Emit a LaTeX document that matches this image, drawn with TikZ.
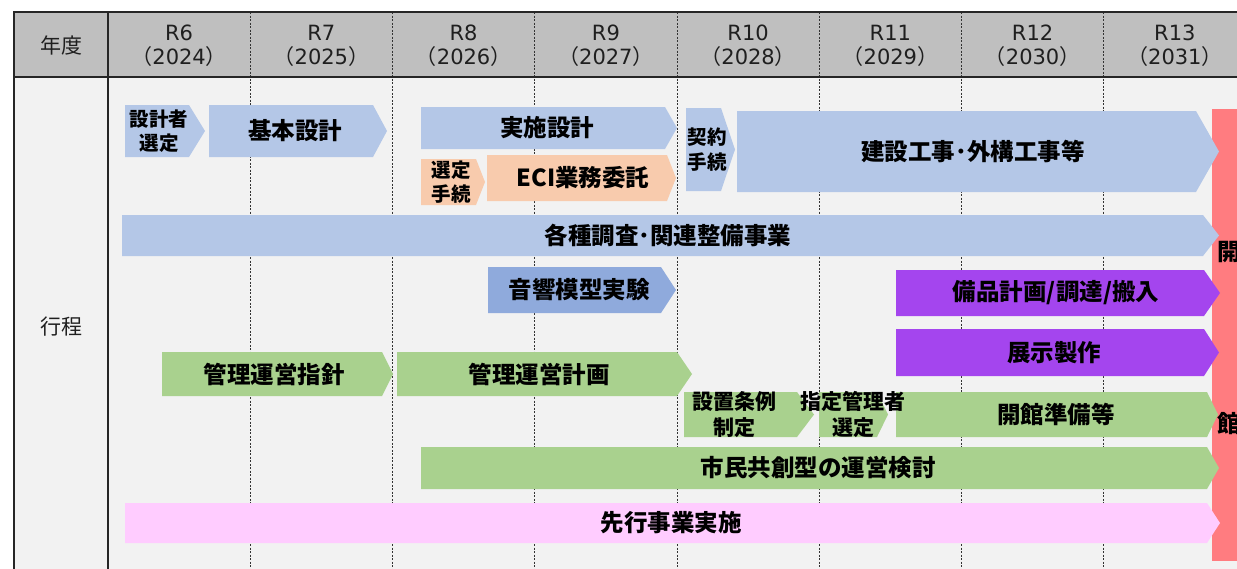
\documentclass[tikz,border=0pt]{standalone}
\usepackage{fontspec}
\setmainfont{Noto Sans CJK JP}
\newfontfamily\hdrlat{DejaVu Sans}
\definecolor{hdr}{HTML}{BFBFBF}
\definecolor{bodyc}{HTML}{F2F2F2}
\definecolor{lblue}{HTML}{B4C7E7}
\definecolor{mblue}{HTML}{8FAADC}
\definecolor{lorange}{HTML}{F8CBAD}
\definecolor{lpurple}{HTML}{A445EE}
\definecolor{lgreen}{HTML}{A9D18E}
\definecolor{lpink}{HTML}{FFCCFF}
\definecolor{lred}{HTML}{FF7C80}
\pgfdeclarelayer{fg}
\pgfsetlayers{main,fg}
\tikzset{
  lbl/.style={inner sep=0pt, align=center, font=\fontsize{23.5}{27}\selectfont\bfseries, text=black},
  small/.style={font=\fontsize{19.5}{24.5}\selectfont\bfseries},
  mid/.style={font=\fontsize{21}{26}\selectfont\bfseries},
  hdrtext/.style={inner sep=0pt, font=\fontsize{21}{24}\selectfont, text=black!88},
  yearline/.style={line width=0.8pt, dash pattern=on 2pt off 1.5pt, black!80},
  border/.style={line width=1.6pt, black!85}
}
% name, x1, tipstart, tip, y1, y2, colour, text x, style
\newcommand\chevbar[9]{%
  \fill[#7] (#2,#5) -- (#3,#5) -- (#4,{(#5+#6)/2}) -- (#3,#6) -- (#2,#6) -- cycle;
  \begin{pgfonlayer}{fg}
  \node[lbl,#9] (#1) at (#8,{(#5+#6)/2}) {\chevtext};
  \end{pgfonlayer}
}
\newcommand\chevtext{}
\begin{document}
\begin{tikzpicture}[x=1pt,y=-1pt]
\useasboundingbox (0,0) rectangle (1237,568);
% backgrounds
\fill[hdr] (14,12) rectangle (1240,77);
\fill[bodyc] (14,77) rectangle (1240,570);
% year dashed lines
\foreach \k in {1,...,7}{
  \draw[yearline] ({108+142.25*\k},12) -- ({108+142.25*\k},570);
}
% borders
\draw[border] (14,12) -- (1240,12);
\draw[border] (14,77) -- (1240,77);
\draw[border] (14,11.2) -- (14,570);
\draw[border] (108,11.2) -- (108,570);
% header text
\node[hdrtext] (nendo) at (61,45) {年度};
\node[hdrtext] (gyotei) at (61,327) {行程};
\foreach \i in {6,...,13}{
  \pgfmathsetmacro\cx{108+142.25*(\i-6+0.5)}
  \pgfmathtruncatemacro\yr{\i+2018}
  \node[hdrtext] (r\i) at (\cx,33) {\hdrlat R\i};
  \node[hdrtext] (y\i) at (\cx,57) {（{\hdrlat\yr}）};
}
% opening bar (under the arrow tips)
\fill[lred] (1212,109) rectangle (1240,561);
% bars
\renewcommand\chevtext{設計者\\選定}
\chevbar{sekkeisha}{125}{189}{205}{105}{157}{lblue}{159}{small}
\renewcommand\chevtext{基本設計}
\chevbar{kihon}{209}{373}{387}{105}{157}{lblue}{295}{}
\renewcommand\chevtext{実施設計}
\chevbar{jisshi}{421}{665}{677}{107}{149}{lblue}{547}{}
\renewcommand\chevtext{選定\\手続}
\chevbar{senteitetsu}{421}{476}{485}{159}{205}{lorange}{451}{small}
\renewcommand\chevtext{ECI業務委託}
\chevbar{eci}{487}{667}{676}{155}{201}{lorange}{583}{}
\renewcommand\chevtext{契約\\手続}
\chevbar{keiyaku}{686}{721}{735}{108}{191}{lblue}{707}{small}
\renewcommand\chevtext{建設工事･外構工事等}
\chevbar{kensetsu}{737}{1196}{1219}{111}{192}{lblue}{973}{}
\renewcommand\chevtext{各種調査･関連整備事業}
\chevbar{kakushu}{122}{1203}{1219}{215}{256}{lblue}{668}{}
\renewcommand\chevtext{音響模型実験}
\chevbar{onkyo}{488}{661}{676}{267}{313}{mblue}{579}{}
\renewcommand\chevtext{備品計画/調達/搬入}
\chevbar{bihin}{896}{1204}{1220}{270}{316}{lpurple}{1056}{}
\renewcommand\chevtext{展示製作}
\chevbar{tenji}{896}{1204}{1219}{329}{376}{lpurple}{1054}{}
\renewcommand\chevtext{管理運営指針}
\chevbar{shishin}{162}{382}{393}{352}{396}{lgreen}{274}{}
\renewcommand\chevtext{管理運営計画}
\chevbar{keikaku}{397}{677}{692}{352}{396}{lgreen}{539}{}
\renewcommand\chevtext{設置条例\\制定}
\chevbar{jorei}{684}{797}{814}{392}{437}{lgreen}{734}{mid}
\renewcommand\chevtext{指定管理者\\選定}
\chevbar{shitei}{819}{877}{888}{392}{437}{lgreen}{853}{mid}
\renewcommand\chevtext{開館準備等}
\chevbar{kaikan}{896}{1207}{1218}{392}{437}{lgreen}{1056}{}
\renewcommand\chevtext{市民共創型の運営検討}
\chevbar{shimin}{421}{1207}{1219}{447}{489}{lgreen}{818}{}
\renewcommand\chevtext{先行事業実施}
\chevbar{senko}{125}{1207}{1220}{503}{543}{lpink}{671}{}
% opening labels
\begin{pgfonlayer}{fg}
\node[lbl, anchor=west] (kai) at (1217,252) {開};
\node[lbl, anchor=west] (kan) at (1217,424) {館};
\end{pgfonlayer}
\end{tikzpicture}
\end{document}
